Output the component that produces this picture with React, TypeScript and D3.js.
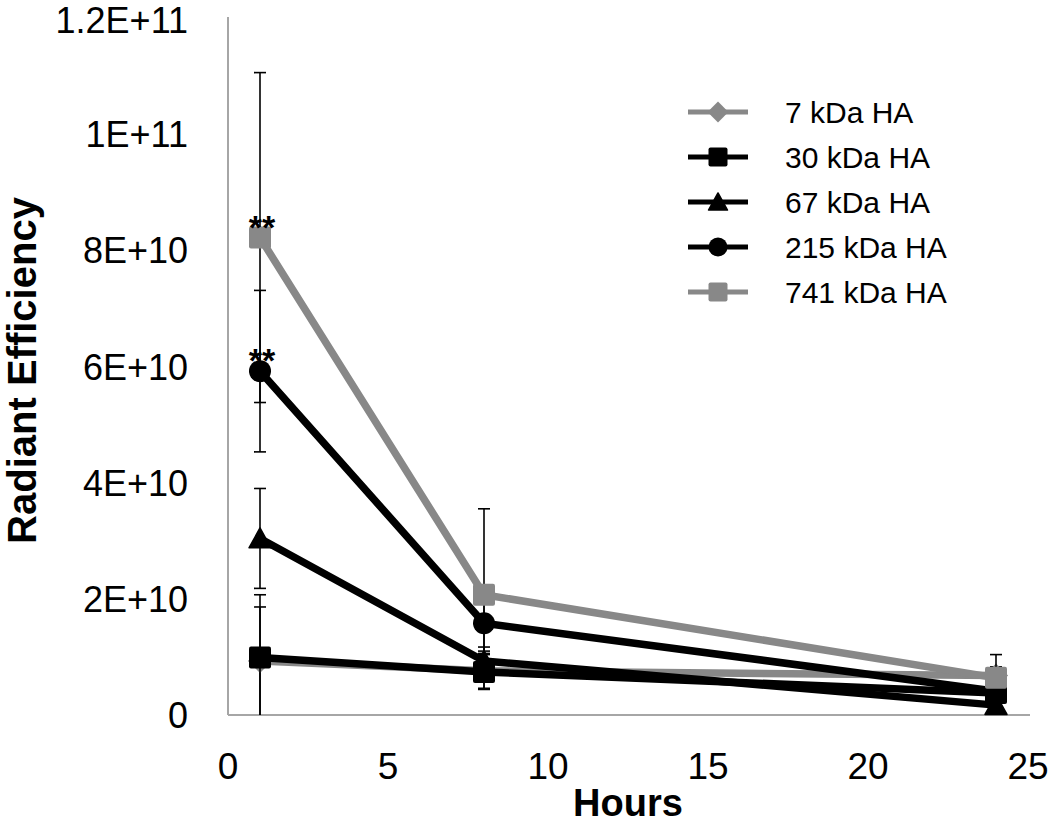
import React from "react";
import * as d3 from "d3";

const hours = [1, 8, 24];
const seriesNames = ["7 kDa HA", "30 kDa HA", "67 kDa HA", "215 kDa HA", "741 kDa HA"];
const v7 = [0.93e10, 0.76e10, 0.68e10];
const v30 = [0.99e10, 0.74e10, 0.38e10];
const v67 = [3.04e10, 0.93e10, 0.17e10];
const v215 = [5.92e10, 1.58e10, 0.41e10];
const v741 = [8.22e10, 2.07e10, 0.64e10];
const e7 = [0.93e10, 0.3e10, 0.15e10];
const e30 = [1.08e10, 0.3e10, 0.15e10];
const e67 = [0.86e10, 0.24e10, 0.1e10];
const e215 = [1.39e10, 0.48e10, 0.15e10];
const e741 = [2.84e10, 1.48e10, 0.4e10];
const xTicks = [0, 5, 10, 15, 20, 25];
const yTicks = [0, 2e10, 4e10, 6e10, 8e10, 1e11, 1.2e11];
const yTickLabels = ["0", "2E+10", "4E+10", "6E+10", "8E+10", "1E+11", "1.2E+11"];
const seriesValues = [v7, v30, v67, v215, v741];
const seriesErrors = [e7, e30, e67, e215, e741];
const seriesColors = ["#888888", "#000000", "#000000", "#000000", "#888888"];
const seriesShapes = ["diamond", "square", "triangle", "circle", "square"];
const significance = [null, null, null, ["**", null, null], ["**", null, null]];

const FONT = "'Liberation Sans', Arial, sans-serif";

function Marker({ shape, x, y, size, color }: any) {
  const h = size / 2;
  if (shape === "square")
    return <rect x={x - h} y={y - h} width={size} height={size} rx={2} fill={color} />;
  if (shape === "circle") return <circle cx={x} cy={y} r={h} fill={color} />;
  if (shape === "triangle")
    return (
      <path
        d={`M${x},${y - h * 0.95} L${x + h},${y + h * 0.85} L${x - h},${y + h * 0.85} Z`}
        fill={color}
        stroke={color}
        strokeWidth={1.5}
        strokeLinejoin="round"
      />
    );
  const dh = h * 1.1;
  return <path d={`M${x},${y - dh} L${x + dh},${y} L${x},${y + dh} L${x - dh},${y} Z`} fill={color} />;
}

export default function App() {
  const left = 228, right = 1028, top = 18, bottom = 715;
  const x = d3.scaleLinear().domain([0, 25]).range([left, right]);
  const y = d3.scaleLinear().domain([0, 1.2e11]).range([bottom, top]);
  const line = d3
    .line<number>()
    .x((_, i) => x(hours[i]))
    .y((d) => y(d));

  const legendRows = [112, 157, 202, 247, 292];

  return (
    <svg
      width={1050}
      height={825}
      style={{ position: "absolute", left: 0, top: 0, background: "#fff" }}
      fontFamily={FONT}
    >
      <rect x={0} y={0} width={1050} height={825} fill="#fff" />
      {/* axes */}
      <line x1={left} x2={left} y1={top - 1} y2={bottom} stroke="#a6a6a6" strokeWidth={2} />
      <line x1={left} x2={right + 2} y1={bottom} y2={bottom} stroke="#a6a6a6" strokeWidth={2} />
      {yTicks.map((t, i) => (
        <text key={"y" + i} x={188} y={Math.max(y(t) + 13, 33)} textAnchor="end" fontSize={36} fill="#000">
          {yTickLabels[i]}
        </text>
      ))}
      {xTicks.map((t) => (
        <text key={"x" + t} x={x(t)} y={779} textAnchor="middle" fontSize={37} fill="#000">
          {t}
        </text>
      ))}
      <text x={x(12.5)} y={816} textAnchor="middle" fontSize={38} fontWeight="bold">
        Hours
      </text>
      <text
        transform={`translate(36,${(top + bottom) / 2 + 4}) rotate(-90)`}
        textAnchor="middle"
        fontSize={40}
        fontWeight="bold"
      >
        Radiant Efficiency
      </text>

      {/* series */}
      {seriesValues.map((vals, si) => {
        const color = seriesColors[si];
        return (
          <g key={"s" + si}>
            <path d={line(vals) || ""} fill="none" stroke={color} strokeWidth={7.5} strokeLinejoin="round" />
            {vals.map((v, i) => {
              const err = seriesErrors[si][i];
              const hi = v + err;
              const lo = v - err;
              const px = x(hours[i]);
              const yHi = y(Math.min(hi, 1.2e11));
              const yLo = y(Math.max(lo, 0));
              return (
                <g key={"e" + i}>
                  <line x1={px} x2={px} y1={yHi} y2={yLo} stroke="#000" strokeWidth={1.6} />
                  <line x1={px - 6} x2={px + 6} y1={yHi} y2={yHi} stroke="#000" strokeWidth={1.6} />
                  {lo > 0 && <line x1={px - 6} x2={px + 6} y1={yLo} y2={yLo} stroke="#000" strokeWidth={1.6} />}
                </g>
              );
            })}
            {vals.map((v, i) => (
              <Marker key={"m" + i} shape={seriesShapes[si]} x={x(hours[i])} y={y(v)} size={22} color={color} />
            ))}
            {vals.map((v, i) => {
              const s = significance[si];
              if (!s || !s[i]) return null;
              return (
                <text key={"t" + i} x={x(hours[i]) + 2} y={y(v) + 1} textAnchor="middle" fontSize={34} fontWeight="bold">
                  {s[i]}
                </text>
              );
            })}
          </g>
        );
      })}

      {/* legend */}
      {seriesNames.map((name, i) => (
        <g key={"l" + i}>
          <line x1={688} x2={748} y1={legendRows[i]} y2={legendRows[i]} stroke={seriesColors[i]} strokeWidth={5} />
          <Marker shape={seriesShapes[i]} x={718} y={legendRows[i]} size={19} color={seriesColors[i]} />
          <text x={785} y={legendRows[i] + 11} fontSize={30} fill="#000">
            {name}
          </text>
        </g>
      ))}
    </svg>
  );
}
